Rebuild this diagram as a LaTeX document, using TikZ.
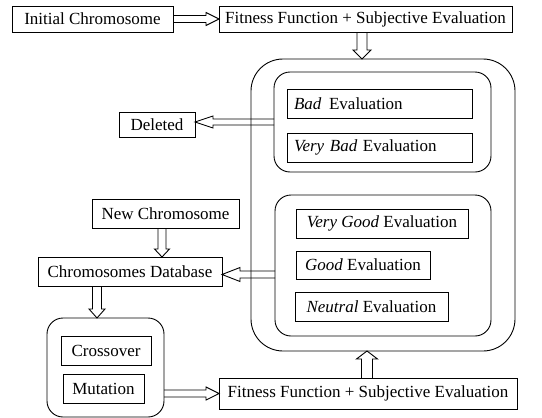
\documentclass[tikz,border=0pt]{standalone}
\usepackage{fontspec}
\setmainfont{Liberation Serif}
\usetikzlibrary{calc}

% hollow block arrow: #1 tail, #2 tip, #3 half shaft width, #4 half head width, #5 head length
\newcommand\hollowarrow[5]{%
  \coordinate (hb) at ($(#2)!#5!(#1)$);
  \draw[flowarrow]
    ($(#1)!#3!90:(#2)$) -- ($(hb)!#3!-90:(#1)$) -- ($(hb)!#4!-90:(#1)$) -- (#2)
    -- ($(hb)!#4!90:(#1)$) -- ($(hb)!#3!90:(#1)$) -- ($(#1)!#3!-90:(#2)$);
}

\tikzset{
  flowarrow/.style={line width=0.9pt, line join=miter},
  txtbox/.style={draw, line width=0.9pt, inner sep=0pt, outer sep=0pt,
    font=\fontsize{17}{20}\selectfont},
  leftbox/.style={txtbox, inner xsep=7pt, align=left},
  groupbox/.style={draw, line width=0.9pt, inner sep=0pt, outer sep=0pt},
}

\begin{document}
\begin{tikzpicture}[x=1pt, y=-1pt]
\useasboundingbox (0,0) rectangle (542,418);

% top row
\node[txtbox, minimum width=161pt, minimum height=26pt] (init) at (92.5,19) {Initial Chromosome};
\node[txtbox, minimum width=293pt, minimum height=26pt] (fit1) at (365.5,19) {Fitness Function + Subjective Evaluation};

% evaluation classes
\node[groupbox, rounded corners=32pt, minimum width=264pt, minimum height=292pt] (outer) at (383,205) {};
\node[groupbox, rounded corners=16pt, minimum width=217pt, minimum height=100pt] (innertop) at (382.5,122) {};
\node[groupbox, rounded corners=16pt, minimum width=216pt, minimum height=141pt] (innerbot) at (383,265.5) {};

\node[leftbox, text width=171pt, minimum height=29pt] (bad) at (379.5,103.5) {\textit{Bad}\hspace{0.45em}Evaluation};
\node[leftbox, text width=171pt, minimum height=29pt] (vbad) at (379.5,147.5) {\textit{Very Bad} Evaluation};

\node[txtbox, minimum width=172pt, minimum height=29pt] (vgood) at (382,223.5) {\textit{Very Good} Evaluation};
\node[txtbox, minimum width=134pt, minimum height=28pt] (good) at (363,265) {\textit{Good} Evaluation};
\node[txtbox, minimum width=153pt, minimum height=29pt] (neutral) at (371.5,306.5) {\textit{Neutral} Evaluation};

% left column
\node[txtbox, minimum width=76pt, minimum height=25pt] (deleted) at (157,124.5) {Deleted};
\node[txtbox, minimum width=147pt, minimum height=29pt] (newc) at (165.5,213.5) {New Chromosome};
\node[txtbox, minimum width=184pt, minimum height=29pt] (db) at (130,271.5) {Chromosomes Database};

\node[groupbox, rounded corners=16pt, minimum width=117pt, minimum height=99pt] (ops) at (105.5,367.5) {};
\node[txtbox, minimum width=90pt, minimum height=29pt] (cross) at (106,350.5) {Crossover};
\node[txtbox, minimum width=81pt, minimum height=29pt] (mut) at (103.5,388.5) {Mutation};

\node[txtbox, minimum width=298pt, minimum height=31pt] (fit2) at (368,393.5) {Fitness Function + Subjective Evaluation};

% connectors
\hollowarrow{init.east}{fit1.west}{3.5pt}{6.5pt}{13pt}

\coordinate (a2s) at ($(fit1.south)+(-3.5,0)$);
\coordinate (a2e) at (a2s |- outer.north);
\hollowarrow{a2s}{a2e}{5pt}{9pt}{9pt}

\coordinate (a3s) at (innertop.west);
\coordinate (a3e) at (a3s -| deleted.east);
\hollowarrow{a3s}{a3e}{3pt}{6pt}{18pt}

\coordinate (a4s) at ($(newc.south)+(-3.5,0)$);
\coordinate (a4e) at (a4s |- db.north);
\hollowarrow{a4s}{a4e}{4pt}{7.5pt}{8pt}

\coordinate (a5e) at ($(db.east)+(0,3)$);
\coordinate (a5s) at (a5e -| innerbot.west);
\hollowarrow{a5s}{a5e}{3.5pt}{7pt}{18pt}

\coordinate (a6s) at ($(db.south)+(-33,0)$);
\coordinate (a6e) at (a6s |- ops.north);
\hollowarrow{a6s}{a6e}{4.5pt}{8pt}{9pt}

\coordinate (a7s) at (ops.east |- fit2.west);
\hollowarrow{a7s}{fit2.west}{3.5pt}{6.5pt}{13pt}

\coordinate (a8s) at ($(fit2.north)+(-1,0)$);
\coordinate (a8e) at (a8s |- outer.south);
\hollowarrow{a8s}{a8e}{5.5pt}{10.5pt}{8pt}

\end{tikzpicture}
\end{document}
